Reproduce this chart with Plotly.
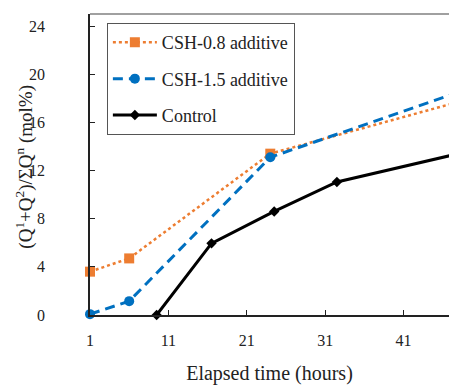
import plotly.graph_objects as go

# Data
csh08_x = [1, 6, 24, 48]
csh08_y = [3.6, 4.7, 13.4, 17.7]
csh15_x = [1, 6, 24, 48]
csh15_y = [0.07, 1.15, 13.1, 18.5]
ctrl_x = [9.5, 16.5, 24.5, 32.5, 48]
ctrl_y = [0.0, 5.95, 8.6, 11.05, 13.4]
x_ticks = [1, 11, 21, 31, 41]
y_ticks = [0, 4, 8, 12, 16, 20, 24]
y_title = "(Q<sup>1</sup>+Q<sup>2</sup>)/ΣQ<sup>n</sup> (mol%)"
x_title = "Elapsed time (hours)"

FONT = "Liberation Serif"

fig = go.Figure()
fig.add_trace(go.Scatter(
    x=csh08_x, y=csh08_y, name="CSH-0.8 additive", mode="lines+markers",
    line=dict(color="#ED7D31", width=2.5, dash="dot"),
    marker=dict(symbol="square", size=10, color="#ED7D31"),
    legendgroup="a", cliponaxis=False))
fig.add_trace(go.Scatter(
    x=csh15_x, y=csh15_y, name="CSH-1.5 additive", mode="lines+markers",
    line=dict(color="#0070C0", width=3, dash="10px,6px"),
    marker=dict(symbol="circle", size=10, color="#0070C0"),
    legendgroup="b", cliponaxis=False))
fig.add_trace(go.Scatter(
    x=ctrl_x, y=ctrl_y, name="Control", mode="lines+markers",
    line=dict(color="black", width=3),
    marker=dict(symbol="diamond", size=8, color="black"),
    legendgroup="c", cliponaxis=False))

fig.update_layout(
    width=449, height=385,
    margin=dict(l=90, r=0, t=14, b=70),
    paper_bgcolor="white", plot_bgcolor="white",
    font=dict(family=FONT, size=14, color="#222"),
    showlegend=True,
    legend=dict(
        x=0.047, y=0.97, xanchor="left", yanchor="top",
        bordercolor="#555", borderwidth=1, bgcolor="white",
        font=dict(family=FONT, size=18, color="#222"),
        traceorder="grouped", tracegroupgap=10, itemwidth=44,
    ),
    xaxis=dict(
        range=[1, 46.8], tickvals=x_ticks, ticks="inside", ticklen=5,
        tickcolor="#222", showline=True, linecolor="#222", linewidth=1.5,
        showgrid=False, zeroline=False, ticklabelstandoff=10,
        tickfont=dict(family=FONT, size=16, color="#222"),
        title=dict(text=x_title, standoff=18,
                   font=dict(family=FONT, size=20, color="#222")),
    ),
    yaxis=dict(
        range=[0, 25], tickvals=y_ticks, ticks="inside", ticklen=5,
        tickcolor="#222", showline=True, linecolor="#222", linewidth=1.5,
        showgrid=False, zeroline=False, ticklabelstandoff=40,
        tickfont=dict(family=FONT, size=16, color="#222"),
    ),
    annotations=[dict(
        text=y_title, textangle=-90, xref="paper", yref="paper",
        x=-0.181, y=0.493, xanchor="center", yanchor="middle", showarrow=False,
        font=dict(family=FONT, size=19, color="#222"))],
    shapes=[dict(type="line", xref="paper", yref="paper", x0=0, x1=1, y0=1, y1=1,
                 line=dict(color="#808080", width=1.5))],
)

fig.write_html("out.html")
